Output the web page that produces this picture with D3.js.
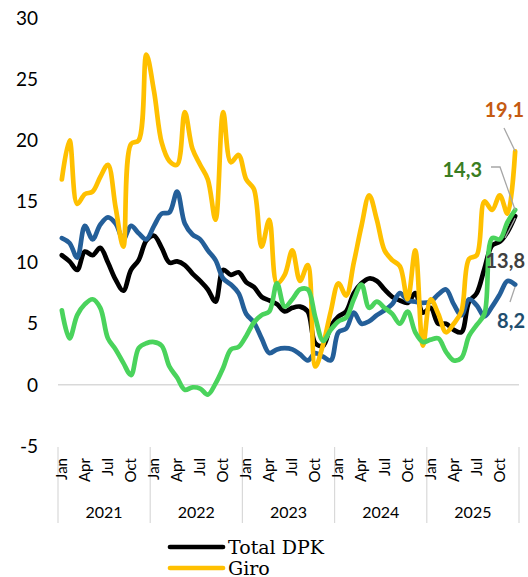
<!DOCTYPE html>
<html>
<head>
<meta charset="utf-8">
<script src="https://cdn.jsdelivr.net/npm/d3@7"></script>
<style>
  html, body { margin: 0; padding: 0; background: #fff; }
  svg { display: block; }
</style>
</head>
<body>
<div id="chart"></div>
<script>
// categories
const years = ["2021", "2022", "2023", "2024", "2025"];
const monthNames = ["Jan", "Feb", "Mar", "Apr", "May", "Jun", "Jul", "Aug", "Sep", "Oct", "Nov", "Dec"];
const shownMonths = ["Jan", "Apr", "Jul", "Oct"];
const yTicks = [-5, 0, 5, 10, 15, 20, 25, 30];

// series (yoy growth, %)
const totalDpk = [10.6, 10.1, 9.4, 10.9, 10.6, 11.2, 10.0, 8.6, 7.7, 9.4, 10.2, 11.8,
  12.2, 11.2, 10.0, 10.1, 9.8, 9.1, 8.5, 7.8, 6.8, 9.4, 9.0, 9.2,
  8.4, 8.0, 7.2, 6.9, 6.6, 6.0, 6.3, 6.4, 6.0, 3.4, 3.2, 4.8,
  5.6, 6.0, 7.5, 8.3, 8.7, 8.5, 7.8, 7.2, 6.9, 6.7, 7.5, 5.9,
  6.3, 5.0, 5.0, 4.5, 4.3, 6.8, 7.5, 9.5, 11.4, 11.7, 12.5, 13.8];
const giro = [16.8, 20.0, 14.8, 15.6, 15.8, 17.0, 18.0, 14.5, 11.3, 19.7, 20.0, 27.0,
  24.0, 19.8, 18.3, 18.0, 22.3, 19.3, 18.0, 16.8, 13.5, 22.3, 18.2, 18.8,
  16.8, 16.0, 11.3, 13.5, 8.3, 9.0, 11.0, 8.5, 9.8, 1.5, 3.3, 6.0,
  8.3, 7.3, 10.0, 13.0, 15.5, 13.5, 11.0, 10.2, 9.7, 7.0, 11.0, 3.2,
  7.0, 5.8, 4.3, 5.0, 6.0, 10.3, 10.6, 15.0, 14.3, 15.5, 14.0, 19.1];
const tabungan = [6.1, 3.8, 5.7, 6.6, 7.0, 6.3, 3.8, 2.9, 1.8, 0.8, 3.0, 3.4,
  3.5, 3.2, 1.5, 0.6, -0.4, -0.2, -0.3, -0.8, 0.1, 1.4, 2.9, 3.1,
  4.0, 5.1, 5.7, 6.0, 8.3, 6.4, 7.0, 7.8, 7.8, 5.5, 3.6, 4.5,
  5.2, 5.5, 7.0, 8.2, 6.3, 6.8, 6.3, 5.8, 5.0, 6.0, 4.3, 3.5,
  3.7, 3.8, 2.7, 2.0, 2.2, 4.0, 4.9, 5.8, 12.0, 11.9, 13.3, 14.3];
const deposito = [12.0, 11.6, 10.4, 13.0, 11.9, 13.1, 13.7, 13.2, 11.9, 13.0, 12.4, 11.9,
  13.0, 14.0, 14.1, 15.8, 13.2, 12.3, 11.9, 11.0, 10.2, 8.7, 8.2, 7.5,
  5.8, 5.1, 3.8, 2.6, 2.9, 3.0, 2.9, 2.5, 2.0, 2.6, 2.3, 2.0,
  4.3, 4.6, 5.9, 5.0, 5.2, 5.7, 6.1, 6.6, 7.5, 6.9, 6.8, 6.7,
  6.8, 7.4, 7.8, 6.6, 5.7, 7.0, 6.5, 5.6, 6.4, 7.4, 8.5, 8.2];

const width = 528, height = 577;
const months = years.flatMap(y => monthNames.map(m => y + "-" + m));

const x = d3.scalePoint().domain(months).range([58, 519]).padding(0.5);
const y = d3.scaleLinear().domain([-5, 30]).range([446, 18]);

const svg = d3.select("#chart").append("svg")
  .attr("width", width)
  .attr("height", height);

// y axis labels
svg.append("g")
  .selectAll("text")
  .data(yTicks)
  .enter().append("text")
  .attr("x", 38)
  .attr("y", d => y(d))
  .attr("dy", "0.35em")
  .attr("text-anchor", "end")
  .attr("font-family", "Lato")
  .attr("font-size", 19)
  .attr("fill", "#000")
  .text(d => d);

// zero line
svg.append("line")
  .attr("x1", 58).attr("x2", 519)
  .attr("y1", y(0)).attr("y2", y(0))
  .attr("stroke", "#d9d9d9")
  .attr("stroke-width", 1.5);

// category axis: year separators
const yearEdges = years.map(yr => x(yr + "-Jan") - x.step() / 2).concat([519]);
svg.append("g")
  .selectAll("line")
  .data(yearEdges)
  .enter().append("line")
  .attr("x1", d => d).attr("x2", d => d)
  .attr("y1", 447).attr("y2", 523)
  .attr("stroke", "#d9d9d9")
  .attr("stroke-width", 1.2);

// month labels
const monthTicks = months.filter(m => shownMonths.includes(m.split("-")[1]));
svg.append("g")
  .selectAll("text")
  .data(monthTicks)
  .enter().append("text")
  .attr("transform", d => "translate(" + (x(d) + 5) + ",458) rotate(-90)")
  .attr("text-anchor", "end")
  .attr("font-family", "Lato")
  .attr("font-size", 15)
  .attr("fill", "#000")
  .text(d => d.split("-")[1]);

// year labels
svg.append("g")
  .selectAll("text")
  .data(years)
  .enter().append("text")
  .attr("x", yr => (x(yr + "-Jan") + x(yr + "-Dec")) / 2)
  .attr("y", 518)
  .attr("text-anchor", "middle")
  .attr("font-family", "Lato")
  .attr("font-size", 16)
  .attr("fill", "#000")
  .text(d => d);

// lines
const series = [
  { name: "Total DPK", values: totalDpk, color: "#000000" },
  { name: "Deposito", values: deposito, color: "#245f99" },
  { name: "Giro", values: giro, color: "#ffc000" },
  { name: "Tabungan", values: tabungan, color: "#4ad35c" }
];

const line = d3.line()
  .x((d, i) => x(months[i]))
  .y(d => y(d))
  .curve(d3.curveCatmullRom.alpha(0.5));

svg.append("g")
  .selectAll("path")
  .data(series)
  .enter().append("path")
  .attr("d", d => line(d.values))
  .attr("fill", "none")
  .attr("stroke", d => d.color)
  .attr("stroke-width", 4.7)
  .attr("stroke-linejoin", "round")
  .attr("stroke-linecap", "round");

// end labels
const last = months.length - 1;
const xEnd = x(months[last]);
const fmt = v => v.toFixed(1).replace(".", ",");
const endLabels = [
  { v: giro[last], color: "#c55a11", tx: 524, ty: 117, leader: [[504, 128], [xEnd, y(giro[last])]] },
  { v: tabungan[last], color: "#3a7d22", tx: 482, ty: 177, leader: [[491, 167], [500, 167], [xEnd, y(tabungan[last])]] },
  { v: totalDpk[last], color: "#404040", tx: 525, ty: 268, leader: [[505, 238], [xEnd, y(totalDpk[last]) + 2]] },
  { v: deposito[last], color: "#1f4e6e", tx: 525, ty: 328, leader: [[510, 302], [xEnd, y(deposito[last]) + 2]] }
];

svg.append("g")
  .selectAll("path")
  .data(endLabels)
  .enter().append("path")
  .attr("d", d => d3.line()(d.leader))
  .attr("fill", "none")
  .attr("stroke", "#a6a6a6")
  .attr("stroke-width", 1.3);

svg.append("g")
  .selectAll("text")
  .data(endLabels)
  .enter().append("text")
  .attr("x", d => d.tx)
  .attr("y", d => d.ty)
  .attr("text-anchor", "end")
  .attr("font-family", "Lato")
  .attr("font-weight", "bold")
  .attr("font-size", 20)
  .attr("fill", d => d.color)
  .text(d => fmt(d.v));

// legend (only first two entries are visible in the frame)
const legendItems = series.filter(s => s.name === "Total DPK" || s.name === "Giro");
const legend = svg.append("g")
  .selectAll("g")
  .data(legendItems)
  .enter().append("g")
  .attr("transform", (d, i) => "translate(170," + (547 + i * 21) + ")");

legend.append("line")
  .attr("x1", 0).attr("x2", 53)
  .attr("stroke", d => d.color)
  .attr("stroke-width", 4.7)
  .attr("stroke-linecap", "round");

legend.append("text")
  .attr("x", 58)
  .attr("dy", "0.35em")
  .attr("font-family", "DejaVu Serif")
  .attr("font-size", 19)
  .attr("fill", "#000")
  .text(d => d.name);
</script>
</body>
</html>
